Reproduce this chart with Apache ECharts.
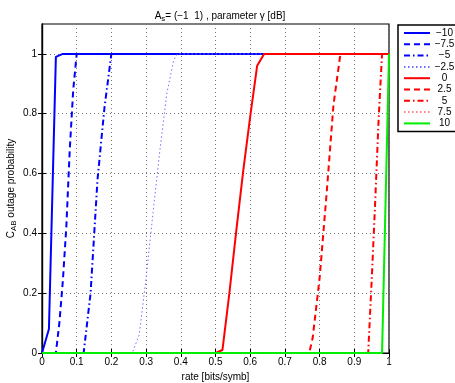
<!DOCTYPE html>
<html><head><meta charset="utf-8">
<script src="https://cdn.jsdelivr.net/npm/echarts@6/dist/echarts.min.js"></script>
<style>html,body{margin:0;padding:0;background:#fff}#c{width:455px;height:383px}</style>
</head><body><div id="c"></div>
<script>
const gammaLabels = ['\u221210','\u22127.5','\u22125','\u22122.5','0','2.5','5','7.5','10'];
const xTicks = [0,0.1,0.2,0.3,0.4,0.5,0.6,0.7,0.8,0.9,1];
const yTicks = [0,0.2,0.4,0.6,0.8,1];

const rate_m10 = [0,0.02,0.04,0.06,1];
const prob_m10 = [0,0.08,0.99,1,1];
const rate_m75 = [0,0.04,0.05,0.06,0.07,0.08,0.09,0.1,1];
const prob_m75 = [0,0,0.1,0.24,0.42,0.68,0.88,1,1];
const rate_m5 = [0,0.12,0.14,0.16,0.18,0.2,1];
const prob_m5 = [0,0,0.2,0.58,0.82,1,1];
const rate_m25 = [0,0.26,0.28,0.3,0.32,0.34,0.36,0.38,0.39,1];
const prob_m25 = [0,0,0.06,0.25,0.47,0.68,0.87,0.98,1,1];
const rate_0 = [0,0.5,0.52,0.54,0.56,0.58,0.6,0.62,0.64,1];
const prob_0 = [0,0,0.01,0.2,0.41,0.61,0.79,0.96,1,1];
const rate_25 = [0,0.77,0.78,0.8,0.82,0.84,0.86,1];
const prob_25 = [0,0,0.05,0.25,0.53,0.83,1,1];
const rate_5 = [0,0.94,0.95,0.96,0.97,0.98,1];
const prob_5 = [0,0,0.24,0.5,0.78,1,1];
const rate_75 = [0,0.98,1];
const prob_75 = [0,0,1];
const rate_10 = [0,0.98,1];
const prob_10 = [0,0,1];

const rates = [rate_m10,rate_m75,rate_m5,rate_m25,rate_0,rate_25,rate_5,rate_75,rate_10];
const probs = [prob_m10,prob_m75,prob_m5,prob_m25,prob_0,prob_25,prob_5,prob_75,prob_10];
const styles = [
  {color:'#0000ff', width:2, type:'solid'},
  {color:'#0000ff', width:2, type:[6,4]},
  {color:'#0000ff', width:2, type:[6,3,1.5,3]},
  {color:'#7070ff', width:1, type:[1.5,2.5]},
  {color:'#ff0000', width:2, type:'solid'},
  {color:'#ff0000', width:2, type:[6,4]},
  {color:'#ff0000', width:2, type:[6,3,1.5,3]},
  {color:'#ff8080', width:1, type:[1.5,2.5]},
  {color:'#00ee00', width:2, type:'solid'}
];
const series = gammaLabels.map((name,i)=>({
  name, type:'line', symbol:'none', showSymbol:false, animation:false,
  data: rates[i].map((x,j)=>[x, probs[i][j]]),
  lineStyle: {color:styles[i].color, width:styles[i].width, type:styles[i].type},
  itemStyle: {color:styles[i].color},
  z: 2+i
}));
const font = 'Liberation Sans, Arial, sans-serif';
const tickStyle = {inside:true, length:4, lineStyle:{color:'#000'}};
const chart = echarts.init(document.getElementById('c'), null, {renderer:'canvas'});
chart.setOption({
  animation:false,
  backgroundColor:'#fff',
  title:{
    text:'A{sub|s}= (\u22121  1) , parameter \u03b3 [dB]',
    left:215, top:4, textAlign:'center',
    textStyle:{fontFamily:font, fontSize:10, fontWeight:'normal', color:'#000',
      rich:{sub:{fontFamily:font, fontSize:8, verticalAlign:'bottom', padding:[6,0,0,0], color:'#000'}}}
  },
  legend:{
    orient:'vertical', left:398, top:25,
    data: gammaLabels,
    itemWidth:26, itemHeight:8, itemGap:1.3,
    padding:[3,2,3,5],
    borderColor:'#000', borderWidth:1.5, borderRadius:0,
    itemStyle:{opacity:0},
    formatter: n => '{c|' + n + '}',
    textStyle:{fontFamily:font, fontSize:10, lineHeight:10, color:'#000',
      rich:{c:{fontFamily:font, fontSize:10, lineHeight:10, color:'#000', width:19, align:'center'}}},
    selectedMode:false
  },
  grid:{left:42, right:66, top:24, bottom:30, outerBoundsMode:'none', containLabel:false, show:true, borderColor:'#000', borderWidth:1.2, backgroundColor:'#fff'},
  xAxis:[{
    type:'value', min:0, max:1, interval:0.1,
    name:'rate [bits/symb]', nameLocation:'middle', nameGap:17,
    nameTextStyle:{fontFamily:font, fontSize:10, color:'#000'},
    axisLine:{show:true, lineStyle:{color:'#000', width:1.2}},
    axisTick:tickStyle,
    axisLabel:{fontFamily:font, fontSize:10, color:'#000', margin:4,
      formatter:v=>(xTicks.some(t=>Math.abs(t-v)<1e-9)?String(+v.toFixed(1)):'')},
    splitLine:{show:true, lineStyle:{color:'#777', type:[1,3], width:1}}
  },{
    type:'value', position:'top', min:0, max:1, interval:0.1,
    axisLine:{show:true, lineStyle:{color:'#000', width:1.2}},
    axisTick:tickStyle,
    axisLabel:{show:false}, splitLine:{show:false}
  }],
  yAxis:[{
    type:'value', min:0, max:1.1, interval:0.2,
    name:'C{sub|AB} outage probability', nameLocation:'middle', nameGap:24, nameRotate:90,
    nameMoveOverlap:false,
    nameTextStyle:{fontFamily:font, fontSize:10, color:'#000',
      rich:{sub:{fontFamily:font, fontSize:8, color:'#000', verticalAlign:'bottom', padding:[6,0,0,0]}}},
    axisLine:{show:true, lineStyle:{color:'#000', width:1.2}},
    axisTick:Object.assign({customValues:yTicks}, tickStyle),
    axisLabel:{fontFamily:font, fontSize:10, color:'#000', margin:5, customValues:yTicks,
      formatter:v=>(yTicks.some(t=>Math.abs(t-v)<1e-9)?String(+v.toFixed(1)):'')},
    splitLine:{show:true, lineStyle:{color:'#777', type:[1,3], width:1}}
  },{
    type:'value', position:'right', min:0, max:1.1, interval:0.2,
    axisLine:{show:true, lineStyle:{color:'#000', width:1.2}},
    axisTick:Object.assign({customValues:yTicks}, tickStyle),
    axisLabel:{show:false}, splitLine:{show:false}
  }],
  series
});
</script></body></html>
